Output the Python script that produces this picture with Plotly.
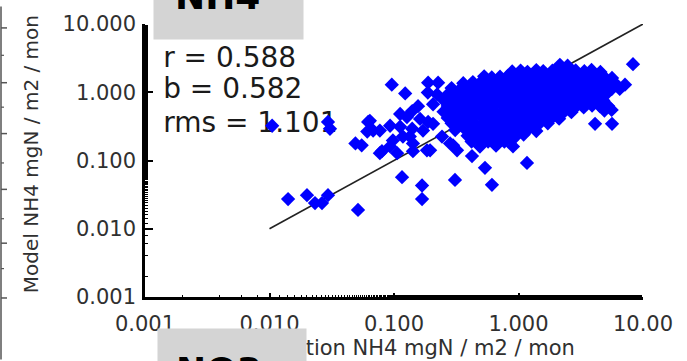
import plotly.graph_objects as go

# ---------------- data ----------------
stat_lines = ["r = 0.588", "b = 0.582", "rms = 1.101"]

x_tick_vals = [0.001, 0.01, 0.1, 1, 10]
x_tick_text = ["0.001", "0.010", "0.100", "1.000", "10.00"]
y_tick_vals = [0.001, 0.01, 0.1, 1, 10]
y_tick_text = ["0.001", "0.010", "0.100", "1.000", "10.000"]

# dense body of the sample cloud (observation, model), one line per band
core_obs = [
    2.15, 2.48,
    0.89, 1.04, 1.18, 1.39, 1.58, 1.87, 2.13, 2.52, 2.88, 3.38, 3.86, 4.55,
    0.53, 0.61, 0.71, 0.82, 0.95, 1.11, 1.28, 1.49, 1.73, 2.0, 2.32, 2.69, 3.12, 3.61, 4.19, 4.86, 5.64,
    0.36, 0.43, 0.49, 0.57, 0.66, 0.76, 0.89, 1.02, 1.2, 1.37, 1.61, 1.85, 2.16, 2.48, 2.92, 3.35, 3.9, 4.5, 5.25, 6.0,
    0.29, 0.34, 0.39, 0.46, 0.53, 0.61, 0.71, 0.82, 0.96, 1.1, 1.29, 1.48, 1.74, 1.99, 2.33, 2.68, 3.14, 3.6, 4.2, 4.85, 5.6, 6.5,
    0.27, 0.31, 0.37, 0.42, 0.49, 0.57, 0.66, 0.77, 0.88, 1.03, 1.18, 1.39, 1.59, 1.87, 2.14, 2.52, 2.88, 3.38, 3.87, 4.5, 5.1,
    0.25, 0.29, 0.34, 0.4, 0.45, 0.53, 0.62, 0.7, 0.83, 0.95, 1.12, 1.27, 1.5, 1.72, 2.01, 2.3, 2.7, 3.1, 3.62, 4.18, 4.8,
    0.27, 0.32, 0.36, 0.43, 0.48, 0.57, 0.65, 0.77, 0.89, 1.02, 1.2, 1.37, 1.61, 1.85, 2.17, 2.48, 2.91, 3.34, 3.9, 4.52, 5.25,
    0.25, 0.3, 0.34, 0.39, 0.46, 0.52, 0.61, 0.72, 0.82, 0.96, 1.1, 1.29, 1.48, 1.74, 1.98, 2.33, 2.66, 4.9, 5.6,
    0.27, 0.32, 0.36, 0.42, 0.5, 0.56, 0.66, 0.76, 0.9, 1.02, 1.2, 1.37, 1.6, 1.85, 2.12,
    0.29, 0.34, 0.4, 0.45, 0.53, 0.61, 0.72, 0.82, 0.94, 1.12, 1.27, 1.5, 1.72,
    0.31, 0.37, 0.42, 0.49, 0.57, 0.66, 0.77, 0.88, 1.04, 1.18, 1.39,
    0.39, 0.46, 0.53, 0.6, 0.71, 0.83, 0.96, 1.1,
    0.42, 0.49, 0.57, 0.66, 0.77, 0.88,
    0.49, 0.66,
]
core_model = [
    2.52, 2.45,
    2.02, 2.08, 1.99, 2.11, 2.04, 2.07, 2.15, 2.01, 2.09, 2.03, 2.12, 1.98,
    1.71, 1.65, 1.69, 1.74, 1.63, 1.7, 1.66, 1.72, 1.67, 1.64, 1.73, 1.68, 1.66, 1.71, 1.65, 1.69, 1.62,
    1.36, 1.41, 1.37, 1.4, 1.34, 1.39, 1.42, 1.35, 1.38, 1.4, 1.36, 1.43, 1.37, 1.35, 1.39, 1.41, 1.36, 1.38, 1.4, 1.34,
    1.15, 1.11, 1.14, 1.1, 1.16, 1.12, 1.13, 1.09, 1.15, 1.12, 1.14, 1.1, 1.13, 1.16, 1.11, 1.14, 1.12, 1.1, 1.15, 1.13, 1.11, 1.12,
    0.93, 0.95, 0.91, 0.94, 0.92, 0.96, 0.9, 0.93, 0.95, 0.91, 0.94, 0.92, 0.9, 0.95, 0.93, 0.91, 0.94, 0.96, 0.92, 0.93, 0.95,
    0.77, 0.74, 0.76, 0.78, 0.75, 0.77, 0.73, 0.76, 0.79, 0.75, 0.77, 0.74, 0.76, 0.78, 0.75, 0.77, 0.76, 0.74, 0.78, 0.75, 0.76,
    0.63, 0.61, 0.64, 0.62, 0.6, 0.63, 0.65, 0.61, 0.62, 0.64, 0.6, 0.63, 0.62, 0.65, 0.61, 0.63, 0.62, 0.6, 0.64, 0.62, 0.63,
    0.52, 0.5, 0.53, 0.51, 0.5, 0.52, 0.54, 0.5, 0.51, 0.53, 0.5, 0.52, 0.51, 0.53, 0.5, 0.52, 0.51, 0.54, 0.55,
    0.42, 0.43, 0.41, 0.42, 0.44, 0.41, 0.43, 0.42, 0.4, 0.43, 0.42, 0.41, 0.43, 0.42, 0.41,
    0.35, 0.34, 0.36, 0.34, 0.35, 0.33, 0.35, 0.36, 0.34, 0.35, 0.34, 0.36, 0.35,
    0.28, 0.29, 0.27, 0.28, 0.29, 0.28, 0.27, 0.29, 0.28, 0.28, 0.27,
    0.23, 0.24, 0.23, 0.22, 0.24, 0.23, 0.23, 0.24,
    0.19, 0.2, 0.19, 0.18, 0.19, 0.2,
    0.16, 0.165,
]

# looser group of low-flux samples on the left of the cloud
left_obs = [0.096, 0.123, 0.188, 0.226, 0.187, 0.222, 0.206, 0.156, 0.14, 0.127,
            0.162, 0.188, 0.112, 0.14, 0.171, 0.206, 0.064, 0.061, 0.077, 0.093,
            0.049, 0.055, 0.08, 0.098, 0.118, 0.142, 0.184, 0.243, 0.282, 0.321,
            0.112, 0.134, 0.062, 0.068, 0.077, 0.093, 0.106, 0.142, 0.195, 0.298]
left_model = [1.29, 0.96, 1.38, 1.38, 0.99, 0.93, 0.667, 0.625, 0.53, 0.434,
              0.407, 0.368, 0.312, 0.292, 0.274, 0.345, 0.381, 0.265, 0.274, 0.323,
              0.178, 0.167, 0.137, 0.197, 0.224, 0.178, 0.141, 0.224, 0.178, 0.141,
              0.48, 0.224, 0.368, 0.274, 0.128, 0.161, 0.128, 0.137, 0.141, 0.167]

# isolated samples
sparse_obs = [0.423, 0.538, 0.903, 1.17, 0.116, 0.309, 0.612, 0.168, 0.168, 0.0514,
              0.0141, 0.02, 0.0232, 0.0264, 0.0295, 0.0105, 0.0295, 0.0306,
              8.31, 7.17, 4.12, 5.64]
sparse_model = [0.116, 0.078, 0.161, 0.092, 0.057, 0.052, 0.044, 0.043, 0.0272, 0.0189,
                0.0272, 0.031, 0.0238, 0.0238, 0.031, 0.323, 0.368, 0.292,
                2.58, 1.29, 0.345, 0.345]

# 1:1 reference line
line_ends = [0.01, 10]

# ---------------- figure ----------------
W, H = 687, 361
L, R, T, B = 145, 44, 18, 64
PW, PH = W - L - R, H - T - B

def px_x(p):
    return (p - L) / PW

def px_y(p):
    return (H - B - p) / PH

FONT = "DejaVu Sans"
INK = "#1a1a1a"
GREY_INK = "#303030"

fig = go.Figure()

# statistics block sits under the markers
fig.add_trace(go.Scatter(
    x=[0.0014, 0.0014, 0.0014], y=[2.95, 1.03, 0.33],
    mode="text", text=stat_lines, textposition="middle right",
    textfont=dict(family=FONT, size=28, color=INK),
    cliponaxis=False, hoverinfo="skip", showlegend=False,
))

fig.add_trace(go.Scatter(
    x=line_ends, y=line_ends, mode="lines",
    line=dict(color="#222222", width=1.6),
    hoverinfo="skip", showlegend=False,
))

all_obs = core_obs + left_obs + sparse_obs
all_model = core_model + left_model + sparse_model
fig.add_trace(go.Scatter(
    x=all_obs, y=all_model, mode="markers",
    marker=dict(symbol="diamond", size=11, color="#0000ff", line=dict(width=0)),
    showlegend=False,
))

axis_common = dict(
    type="log", range=[-3, 1], showgrid=False, zeroline=False,
    showline=True, linecolor="black", linewidth=2.5, mirror=False,
    ticks="inside", tickcolor="black",
    tickfont=dict(family=FONT, size=21, color=GREY_INK),
)
fig.update_xaxes(**axis_common, tickvals=x_tick_vals, ticktext=x_tick_text,
                 ticklen=4, tickwidth=2, ticklabelstandoff=6,
                 minor=dict(ticks="inside", ticklen=2, tickwidth=1, tickcolor="black"))
fig.update_yaxes(**axis_common, tickvals=y_tick_vals, ticktext=y_tick_text,
                 ticklen=8, tickwidth=2, ticklabelstandoff=2,
                 minor=dict(ticks="inside", ticklen=3, tickwidth=1, tickcolor="black"))

annotations = [
    # axis titles
    dict(text="Observation NH4 mgN / m2 / mon", xref="paper", yref="paper",
         x=px_x(396), y=px_y(349), xanchor="center", yanchor="middle",
         showarrow=False, font=dict(family=FONT, size=21, color=GREY_INK)),
    dict(text="Model NH4 mgN / m2 / mon", xref="paper", yref="paper",
         x=px_x(31), y=px_y(151), xanchor="center", yanchor="middle", textangle=-90,
         showarrow=False, font=dict(family=FONT, size=20, color=GREY_INK)),
    # panel header tabs
    dict(text=" ", xref="paper", yref="paper", x=px_x(153), y=px_y(34),
         xanchor="left", yanchor="bottom", width=149, height=70, borderpad=0,
         bgcolor="#d4d4d4", showarrow=False),
    dict(text="<b>NH4</b>", xref="paper", yref="paper", x=px_x(217), y=px_y(-10),
         xanchor="center", yanchor="middle", showarrow=False,
         font=dict(family=FONT, size=36, color="black")),
    dict(text=" ", xref="paper", yref="paper", x=px_x(157), y=px_y(329),
         xanchor="left", yanchor="top", width=148, height=70, borderpad=0,
         bgcolor="#d4d4d4", showarrow=False),
    dict(text="<b>NO3</b>", xref="paper", yref="paper", x=px_x(219), y=px_y(372),
         xanchor="center", yanchor="middle", showarrow=False,
         font=dict(family=FONT, size=36, color="black")),
]

# edge of the neighbouring panel's axis on the far left
shapes = [dict(type="line", xref="paper", yref="paper",
               x0=px_x(1), x1=px_x(1), y0=px_y(0), y1=px_y(361),
               line=dict(color="#555555", width=1.5))]
for p in [22, 78, 130, 187, 242, 298]:
    shapes.append(dict(type="line", xref="paper", yref="paper",
                       x0=px_x(1), x1=px_x(7), y0=px_y(p), y1=px_y(p),
                       line=dict(color="#555555", width=1.5)))
for p in [50, 103, 160, 217, 268]:
    shapes.append(dict(type="line", xref="paper", yref="paper",
                       x0=px_x(1), x1=px_x(4), y0=px_y(p), y1=px_y(p),
                       line=dict(color="#555555", width=1.2)))

fig.update_layout(
    width=W, height=H,
    margin=dict(l=L, r=R, t=T, b=B, pad=0),
    paper_bgcolor="white", plot_bgcolor="white",
    annotations=annotations, shapes=shapes,
    showlegend=False,
)

fig.write_html("out.html", config={"displayModeBar": False})
